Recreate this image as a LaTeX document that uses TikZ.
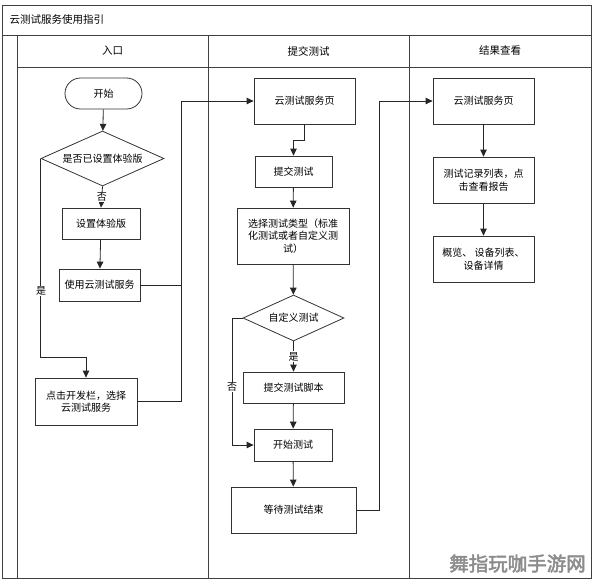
\documentclass[tikz,border=0pt]{standalone}
\usepackage{fontspec}
\setmainfont{Noto Sans CJK SC}
\newfontfamily\wmfont[FakeBold=2.5]{Noto Sans CJK SC}
\usetikzlibrary{arrows.meta,shapes.geometric,calc}
\begin{document}
\begin{tikzpicture}[x=1pt,y=-1pt,
  frame/.style={draw=black!75,line width=0.9pt},
  box/.style={draw=black!80,line width=0.8pt,rectangle,inner sep=1pt,align=center,font=\fontsize{10}{12.5}\selectfont},
  term/.style={box,rounded corners=15.5pt},
  dec/.style={draw=black!80,line width=0.8pt,diamond,aspect=2.2,inner sep=0pt,font=\fontsize{10}{12.5}\selectfont},
  conn/.style={draw=black!85,line width=0.8pt},
  arr/.style={conn,-{Triangle[length=7pt,width=6.5pt]}},
  lab/.style={fill=white,inner sep=1pt,font=\fontsize{10}{12}\selectfont},
  hdr/.style={font=\fontsize{10.5}{12}\selectfont}]
\useasboundingbox (0,0) rectangle (596,582);
% frame
\draw[frame] (2,5) rectangle (591,578);
\draw[frame] (2,35) -- (591,35);
\draw[frame] (17,35) -- (17,578);
\draw[frame] (17,67) -- (591,67);
\draw[frame] (208,35) -- (208,578);
\draw[frame] (409,35) -- (409,578);
\node[hdr,anchor=west] (title) at (6,20) {云测试服务使用指引};
\node[hdr] (h1) at (112.5,51) {入口};
\node[hdr] (h2) at (308.5,51) {提交测试};
\node[hdr] (h3) at (500,51) {结果查看};
% lane 1
\node[term,minimum width=77pt,minimum height=31pt] (start) at (103.5,93.5) {开始};
\node[dec,minimum width=123pt,minimum height=55pt] (d1) at (102.5,158.5) {是否已设置体验版};
\node[box,minimum width=78pt,minimum height=31pt] (setup) at (101,223.5) {设置体验版};
\node[box,minimum width=81pt,minimum height=32pt] (use) at (99.5,285) {使用云测试服务};
\node[box,minimum width=102pt,minimum height=47pt] (click) at (86,401.5) {点击开发栏，选择\\云测试服务};
% lane 2
\node[box,minimum width=101pt,minimum height=46pt] (p1) at (304.5,101) {云测试服务页};
\node[box,minimum width=77pt,minimum height=31pt] (submit) at (293.5,171.5) {提交测试};
\node[box,minimum width=112pt,minimum height=56pt] (choose) at (293,236) {选择测试类型（标准\\化测试或者自定义测\\试）};
\node[dec,minimum width=101pt,minimum height=46pt] (d2) at (293.5,318) {自定义测试};
\node[box,minimum width=101pt,minimum height=31pt] (script) at (293.5,387.5) {提交测试脚本};
\node[box,minimum width=78pt,minimum height=32pt] (run) at (293,445) {开始测试};
\node[box,minimum width=125pt,minimum height=46pt] (wait) at (293.5,510) {等待测试结束};
% lane 3
\node[box,minimum width=101pt,minimum height=46pt] (r1) at (483.5,101) {云测试服务页};
\node[box,minimum width=101pt,minimum height=46pt] (r2) at (483.5,180) {测试记录列表，点\\击查看报告};
\node[box,minimum width=101pt,minimum height=46pt] (r3) at (483.5,259) {概览、 设备列表、\\设备详情};
% junctions
\coordinate (k1) at (41,357);
\coordinate (j1) at (181,101);
\coordinate (k2) at (232,318);
\coordinate (j2) at (379,101);
% connectors lane 1
\draw[arr] (start) -- (d1);
\draw[arr] (d1.south) -- node[lab] {否} (setup.north);
\draw[arr] (setup) -- (use);
\draw[arr] (d1.west) -- (d1.west |- k1) -| (click.north);
\node[lab] (yes1) at (41,291) {是};
\draw[conn] (click.east) -| (j1);
\draw[arr] (use.east) -| (j1) -- (p1.west);
% connectors lane 2
\draw[arr] (p1.south) -- ++(0,16) -| (submit.north);
\draw[arr] (submit) -- (choose);
\draw[arr] (choose) -- (d2);
\draw[arr] (d2.south) -- node[lab] {是} (script.north);
\draw[arr] (script) -- (run);
\draw[arr] (d2.west) -- (k2) |- (run.west);
\node[lab] (no2) at (232,387) {否};
\draw[arr] (run) -- (wait);
\draw[arr] (wait.east) -| (j2) -- (r1.west);
% connectors lane 3
\draw[arr] (r1) -- (r2);
\draw[arr] (r2) -- (r3);
% watermark
\node[text=black!45,font=\wmfont\fontsize{19.5}{20}\selectfont,inner sep=0pt] (wm) at (517.5,563.5) {舞指玩咖手游网};
\end{tikzpicture}
\end{document}
